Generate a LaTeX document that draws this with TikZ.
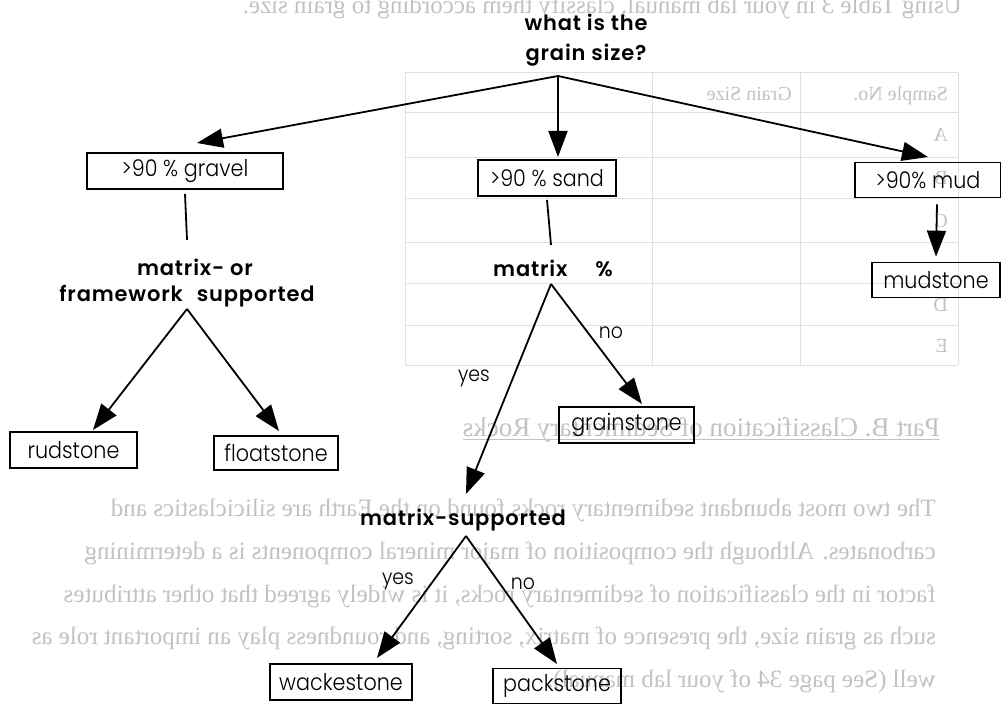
\documentclass[tikz,border=0pt]{standalone}
\usepackage{fontspec}
\setmainfont{Poppins}
\newfontfamily\boxfont{Poppins}[UprightFont=* Light, FakeStretch=0.9]
\newfontfamily\lblfont{Poppins}[UprightFont=* SemiBold, LetterSpace=4]
\newfontfamily\ghostfont{Liberation Serif}
\usetikzlibrary{arrows.meta}
\definecolor{ghost}{gray}{0.76}
\definecolor{ghostline}{gray}{0.88}
\begin{document}
\begin{tikzpicture}[x=1pt,y=-1pt]
\tikzset{
  box/.style={draw, line width=1.7pt, inner sep=0pt, font=\boxfont\fontsize{23}{23}\selectfont},
  lbl/.style={font=\lblfont\fontsize{21}{30}\selectfont, inner sep=0pt, align=center},
  yn/.style={font=\boxfont\fontsize{21}{21}\selectfont, inner sep=0pt},
  conn/.style={line width=1.8pt},
  arr/.style={conn, -{Triangle[length=26pt,width=19pt]}},
  gtext/.style={text=ghost, inner sep=0pt, font=\ghostfont\fontsize{25}{25}\selectfont},
  gsmall/.style={text=ghost, inner sep=0pt, font=\ghostfont\fontsize{20}{20}\selectfont},
  gline/.style={draw=ghostline, line width=1pt},
}
\useasboundingbox[fill=white] (0,0) rectangle (1001,706);

% ---------- faint show-through of the other side of the page ----------
\node[gtext, anchor=base east] (g0) at (962,14) {\reflectbox{Using Table 3 in your lab manual, classify them according to grain size.}};
\foreach \yy in {73,113,157,198,242,283,325,365} \draw[gline] (405,\yy) -- (958,\yy);
\foreach \xx in {405,652,800,958} \draw[gline] (\xx,73) -- (\xx,365);
\node[gsmall, anchor=base east] (gh1) at (948,101) {\reflectbox{Sample No.}};
\node[gsmall, anchor=base east] (gh2) at (792,101) {\reflectbox{Grain Size}};
\node[gsmall, anchor=base east] (gA) at (948,142) {\reflectbox{A}};
\node[gsmall, anchor=base east] (gB) at (948,184) {\reflectbox{B}};
\node[gsmall, anchor=base east] (gC) at (948,227) {\reflectbox{C}};
\node[gsmall, anchor=base east] (gD) at (948,311) {\reflectbox{D}};
\node[gsmall, anchor=base east] (gE) at (948,352) {\reflectbox{E}};
\node[gtext, anchor=base east, font=\ghostfont\fontsize{27}{27}\selectfont] (gp) at (940,436) {\reflectbox{Part B. Classification of Sedimentary Rocks}};
\draw[draw=ghost, line width=1pt] ([yshift=-3pt]gp.base west) -- ([yshift=-3pt]gp.base east);
\node[gtext, anchor=base east] (p1) at (936,516) {\reflectbox{The two most abundant sedimentary rocks found on the Earth are siliciclastics and}};
\node[gtext, anchor=base east] (p2) at (936,559) {\reflectbox{carbonates. Although the composition of major mineral components is a determining}};
\node[gtext, anchor=base east] (p3) at (936,602) {\reflectbox{factor in the classification of sedimentary rocks, it is widely agreed that other attributes}};
\node[gtext, anchor=base east] (p4) at (936,644) {\reflectbox{such as grain size, the presence of matrix, sorting, and roundness play an important role as}};
\node[gtext, anchor=base east] (p5) at (936,687) {\reflectbox{well (See page 34 of your lab manual).}};

% ---------- the flow chart ----------
\node[lbl] (q) at (586,40) {what is the\\grain size?};
\coordinate (a0) at (558,76);

\node[box, minimum width=196pt, minimum height=36pt] (gravel) at (185,171) {>90 \% gravel};
\node[box, minimum width=138pt, minimum height=36pt] (sand) at (547,178) {>90 \% sand};
\node[box, minimum width=146pt, minimum height=35pt] (mud) at (928,180) {>90\% mud};

\coordinate (tgr) at (197,143);
\coordinate (tsa) at (558,157);
\coordinate (tmu) at (928,157);
\draw[arr] (a0) -- (tgr);
\draw[arr] (a0) -- (tsa);
\draw[arr] (a0) -- (tmu);

% gravel branch
\node[lbl] (mo1) at (195,267) {matrix- or};
\node[lbl] (mo2) at (187,296) {framework\hspace{14pt}supported};
\coordinate (g1) at (187,240);
\draw[conn] ([yshift=-4pt]gravel.south) -- (g1);
\coordinate (a1) at (187,309);
\node[box, minimum width=127pt, minimum height=36pt] (rud) at (73.5,450) {rudstone};
\node[box, minimum width=124pt, minimum height=34pt] (flo) at (276,453) {floatstone};
\coordinate (trud) at (93,430);
\coordinate (tflo) at (279,431);
\draw[arr] (a1) -- (trud);
\draw[arr] (a1) -- (tflo);

% sand branch
\node[lbl] (mp) at (553,268) {matrix\hspace{28pt}\%};
\coordinate (s1) at (551,245);
\draw[conn] ([yshift=-3pt]sand.south) -- (s1);
\coordinate (a2) at (551,284);
\node[box, minimum width=135pt, minimum height=36pt] (grain) at (626.5,425) {grainstone};
\coordinate (tgrain) at (642,404);
\draw[arr] (a2) -- (tgrain);
\node[yn] (no1) at (611,333) {no};
\coordinate (tms) at (466,494);
\draw[arr] (a2) -- (tms);
\node[yn] (yes1) at (474,378) {yes};

\node[lbl] (ms) at (463,520) {matrix-supported};
\coordinate (a3) at (466,536);
\node[box, minimum width=142pt, minimum height=36pt] (wack) at (341,682) {wackestone};
\node[box, minimum width=128pt, minimum height=35pt] (pack) at (557,686) {packstone};
\coordinate (twa) at (377,658);
\coordinate (tpa) at (557,664);
\draw[arr] (a3) -- (twa);
\draw[arr] (a3) -- (tpa);
\node[yn] (yes2) at (398,581) {yes};
\node[yn] (no2) at (523,584) {no};

% mud branch
\node[box, minimum width=128pt, minimum height=35pt] (mst) at (936,280) {mudstone};
\draw[arr] ([xshift=9pt,yshift=-6pt]mud.south) -- ([yshift=5pt]mst.north);
\end{tikzpicture}
\end{document}
